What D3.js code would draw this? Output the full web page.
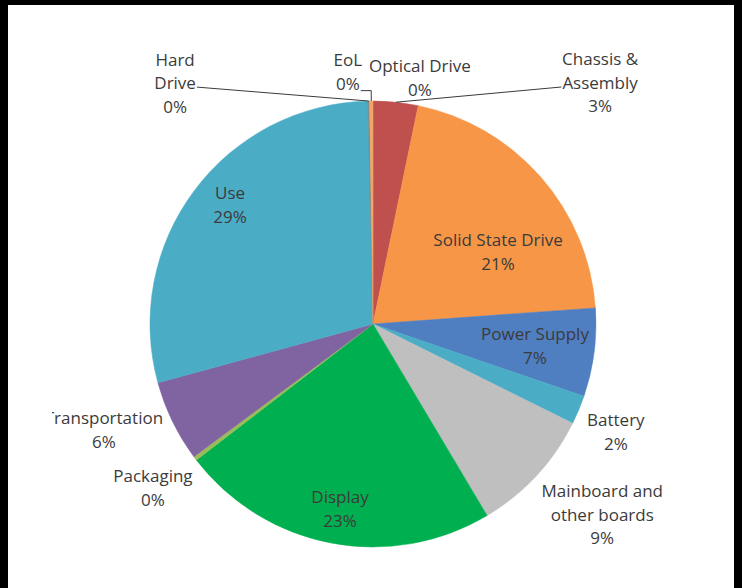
<!DOCTYPE html>
<html>
<head>
<meta charset="utf-8">
<script src="https://cdn.jsdelivr.net/npm/d3@7"></script>
<style>
  body { margin: 0; background: #fff; }
  text { font-family: "Open Sans", sans-serif; font-size: 17px; fill: #3b3b3b; }
</style>
</head>
<body>
<div id="chart"></div>
<script>
// clockwise from 12 o'clock
const categories = ["Optical Drive", "Chassis & Assembly", "Solid State Drive", "Power Supply", "Battery",
  "Mainboard and other boards", "Display", "Packaging", "Transportation", "Use", "Hard Drive", "EoL"];
const shares = [0.05, 3.2, 20.6, 6.4, 2.1, 9.1, 23.1, 0.3, 5.9, 28.9, 0.1, 0.25];
const pctLabels = ["0%", "3%", "21%", "7%", "2%", "9%", "23%", "0%", "6%", "29%", "0%", "0%"];
const colors = ["#a94744", "#c0504d", "#f79646", "#4f7ec1", "#4bacc6", "#bfbfbf",
  "#00b050", "#9bbb59", "#8064a2", "#4bacc6", "#7f7f7f", "#efa66a"];

// how each label is broken into lines
const wrap = {
  "Chassis & Assembly": ["Chassis &", "Assembly"],
  "Mainboard and other boards": ["Mainboard and", "other boards"],
  "Hard Drive": ["Hard", "Drive"]
};
// label block centre: [angle in degrees from 12 o'clock, radius factor]
const labelLayout = {
  "Optical Drive": [10.8, 1.123], "Chassis & Assembly": [43.3, 1.485], "Solid State Drive": [60.1, 0.647],
  "Power Supply": [97.7, 0.733], "Battery": [114.0, 1.192], "Mainboard and other boards": [129.8, 1.338],
  "Display": [190.1, 0.843], "Packaging": [233.3, 1.231], "Transportation": [248.5, 1.297],
  "Use": [309.8, 0.834], "Hard Drive": [320.6, 1.398], "EoL": [354.3, 1.136]
};
const leaders = { "Hard Drive": "right", "Chassis & Assembly": "left", "EoL": "elbow" };

const width = 742, height = 588;
const cx = 373, cy = 324, radius = 223;
const lineH = 23.5;

const svg = d3.select("#chart").append("svg")
  .attr("width", width).attr("height", height);

svg.append("rect").attr("width", width).attr("height", height).attr("fill", "#fff");

svg.append("clipPath").attr("id", "frameClip")
  .append("rect").attr("x", 52).attr("y", 5).attr("width", 682).attr("height", height);

const g = svg.append("g").attr("transform", `translate(${cx},${cy})`);

const pie = d3.pie().sort(null).value(d => d.v);
const arc = d3.arc().innerRadius(0).outerRadius(radius);
const rows = categories.map((c, i) => ({ name: c, v: shares[i], pct: pctLabels[i], color: colors[i] }));
const arcs = pie(rows);

g.selectAll("path.slice")
  .data(arcs)
  .enter().append("path")
  .attr("class", "slice")
  .attr("d", arc)
  .attr("fill", d => d.data.color)
  .attr("stroke", d => d.data.color)
  .attr("stroke-width", 0.5);

function polar(deg, r) {
  const a = deg * Math.PI / 180;
  return [r * Math.sin(a), -r * Math.cos(a)];
}

const labels = svg.append("g").attr("clip-path", "url(#frameClip)");
const leaderG = svg.append("g");

arcs.forEach(d => {
  const name = d.data.name;
  const lines = (wrap[name] || [name]).concat([d.data.pct]);
  const lay = labelLayout[name];
  const p = polar(lay[0], lay[1] * radius);
  const x = cx + p[0], y = cy + p[1];
  const top = y - (lines.length - 1) * lineH / 2;
  const t = labels.append("text")
    .attr("text-anchor", "middle");
  lines.forEach((s, j) => {
    t.append("tspan").attr("x", x).attr("y", top + j * lineH).attr("dy", "0.35em").text(s);
  });

  const kind = leaders[name];
  if (!kind) return;
  const mid = (d.startAngle + d.endAngle) / 2 * 180 / Math.PI;
  const e = polar(mid, radius);
  const ex = cx + e[0], ey = cy + e[1];
  const spans = t.selectAll("tspan").nodes();
  let pts;
  if (kind === "right") {
    const b = spans[1].getBBox();
    pts = [[b.x + b.width + 1, top + lineH + 4], [ex, ey]];
  } else if (kind === "left") {
    const b = spans[1].getBBox();
    pts = [[b.x - 1, top + lineH + 4], [ex, ey]];
  } else {
    const b = spans[spans.length - 1].getBBox();
    const ly = b.y + b.height - 4;
    pts = [[b.x + b.width + 1, ly], [ex, ly], [ex, ey]];
  }
  leaderG.append("path")
    .attr("d", d3.line()(pts))
    .attr("fill", "none")
    .attr("stroke", "#3b3b3b")
    .attr("stroke-width", 1);
});

// frame
svg.append("rect").attr("x", 0).attr("y", 0).attr("width", width).attr("height", 5).attr("fill", "#000");
svg.append("rect").attr("x", 0).attr("y", 0).attr("width", 8).attr("height", height).attr("fill", "#000");
svg.append("rect").attr("x", 734).attr("y", 0).attr("width", 8).attr("height", height).attr("fill", "#000");
</script>
</body>
</html>
